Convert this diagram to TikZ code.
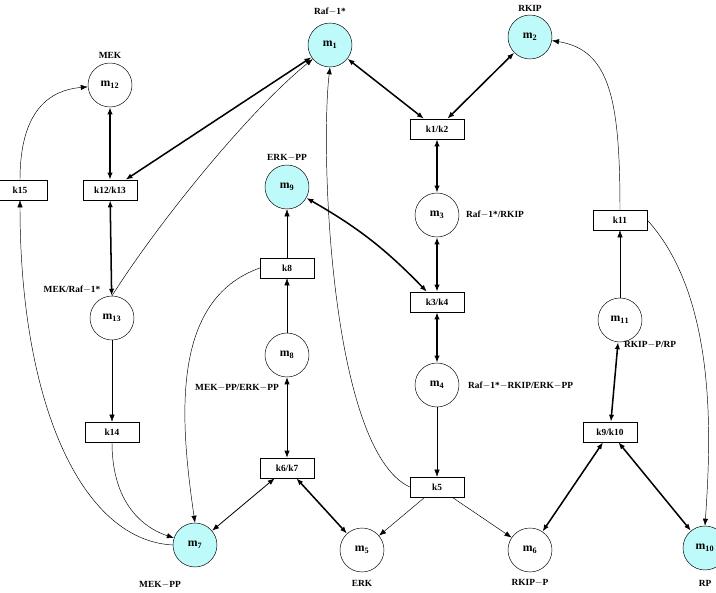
\documentclass[tikz,border=0pt]{standalone}
\usepackage{fontspec}
\setmainfont{Liberation Serif}
\usetikzlibrary{arrows.meta}
\definecolor{paleCyan}{RGB}{190,250,250}
\tikzset{
  species/.style={circle,draw,minimum size=44*0.03cm,inner sep=0pt,font=\bfseries},
  input/.style={species,fill=paleCyan},
  rate/.style={rectangle,draw,minimum width=54*0.03cm,minimum height=20*0.03cm,inner sep=1pt,font=\bfseries\footnotesize},
  lbl/.style={font=\bfseries\footnotesize},
  bidir/.style={{Latex[length=6pt]}-{Latex[length=6pt]},line width=1.3pt},
  flow/.style={-{Latex[length=6pt]},thin}
}
\begin{document}
\begin{tikzpicture}[x=0.03cm,y=-0.03cm]
    \useasboundingbox (0,0) rectangle (716,593);
    % species
    \node[input] (m1) at (330,45) {m$_{\bf 1}$};
    \node[input] (m2) at (530,37) {m$_{\bf 2}$};
    \node[species] (m12) at (110,85) {m$_{\bf 12}$};
    \node[input] (m9) at (287,187) {m$_{\bf 9}$};
    \node[species] (m3) at (437,215) {m$_{\bf 3}$};
    \node[species] (m11) at (620,320) {m$_{\bf 11}$};
    \node[species] (m13) at (112,318) {m$_{\bf 13}$};
    \node[species] (m8) at (287,355) {m$_{\bf 8}$};
    \node[species] (m4) at (437,385) {m$_{\bf 4}$};
    \node[input] (m7) at (195,545) {m$_{\bf 7}$};
    \node[species] (m5) at (362,550) {m$_{\bf 5}$};
    \node[species] (m6) at (530,550) {m$_{\bf 6}$};
    \node[input] (m10) at (705,548) {m$_{\bf 10}$};
    % rates
    \node[rate] (k15) at (20,190) {k15};
    \node[rate] (k1213) at (110,190) {k12/k13};
    \node[rate] (k12) at (437,129) {k1/k2};
    \node[rate] (k11) at (620,220) {k11};
    \node[rate] (k8) at (287,268) {k8};
    \node[rate] (k34) at (437,302) {k3/k4};
    \node[rate] (k14) at (112,432) {k14};
    \node[rate] (k910) at (610,432) {k9/k10};
    \node[rate] (k67) at (287,468) {k6/k7};
    \node[rate] (k5) at (437,487) {k5};
    % labels
    \node[lbl] (lm1) at (330,12) {Raf$-$1*};
    \node[lbl] (lm2) at (530,8) {RKIP};
    \node[lbl] (lm12) at (110,55) {MEK};
    \node[lbl] (lm9) at (287,158) {ERK$-$PP};
    \node[lbl,anchor=west] (lm3) at (462,215) {Raf$-$1*/RKIP};
    \node[lbl] (lm13) at (72,290) {MEK/Raf$-$1*};
    \node[lbl,anchor=west] (lm11) at (620,345) {RKIP$-$P/RP};
    \node[lbl] (lm8) at (237,388) {MEK$-$PP/ERK$-$PP};
    \node[lbl,anchor=west] (lm4) at (464,386) {Raf$-$1*$-$RKIP/ERK$-$PP};
    \node[lbl] (lm7) at (160,585) {MEK$-$PP};
    \node[lbl] (lm5) at (362,583) {ERK};
    \node[lbl] (lm6) at (530,583) {RKIP$-$P};
    \node[lbl] (lm10) at (705,583) {RP};
    % reversible steps
    \draw[bidir] (m1) -- (k12);
    \draw[bidir] (m2) -- (k12);
    \draw[bidir] (k12) -- (m3);
    \draw[bidir] (m3) -- (k34);
    \draw[bidir] (m9) to[bend left=8] (k34);
    \draw[bidir] (k34) -- (m4);
    \draw[bidir] (m12) -- (k1213);
    \draw[bidir] (k1213) -- (m1);
    \draw[bidir] (k1213) -- (m13);
    \draw[bidir,line width=0.7pt] (m7) -- (k67);
    \draw[bidir,line width=0.6pt] (k67) -- (m8);
    \draw[bidir] (k67) -- (m5);
    \draw[bidir] (m6) -- (k910);
    \draw[bidir] (m10) -- (k910);
    \draw[bidir] (k910) -- (m11);
    % irreversible steps
    \draw[flow] (m4) -- (k5);
    \draw[flow] (k5) -- (m5);
    \draw[flow] (k5) -- (m6);
    \draw[flow] (k5.west) .. controls (330,450) and (320,150) .. (m1.south);
    \draw[flow] (m13.north) .. controls (160,220) and (250,110) .. (m1);
    \draw[flow] (m13) -- (k14);
    \draw[flow] (k14.south) .. controls (112,510) and (150,530) .. (m7);
    \draw[flow] (m7.west) .. controls (80,540) and (20,400) .. (k15.south);
    \draw[flow] (k15.north) .. controls (20,110) and (50,90) .. (m12);
    \draw[flow] (m8) -- (k8);
    \draw[flow] (k8) -- (m9);
    \draw[flow] (k8.west) .. controls (170,300) and (180,420) .. (m7.north);
    \draw[flow] (m11) -- (k11);
    \draw[flow] (k11.north) .. controls (620,100) and (610,50) .. (m2);
    \draw[flow] (k11.east) .. controls (720,300) and (710,450) .. (m10.north);
\end{tikzpicture}
\end{document}
